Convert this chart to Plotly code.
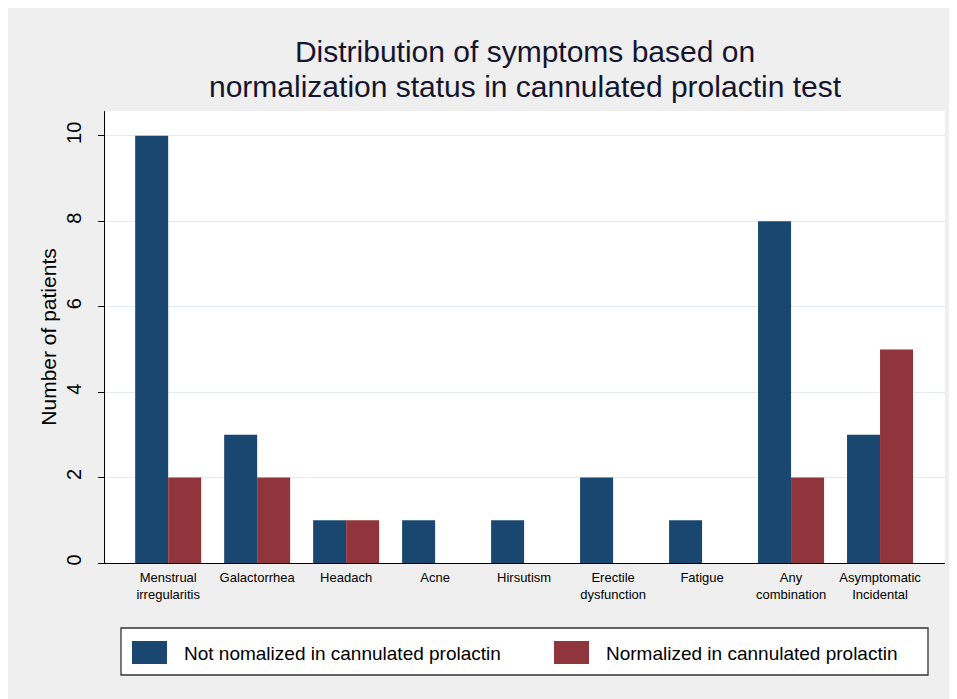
import plotly.graph_objects as go

# categories and counts
symptoms = ["Menstrual<br>irregularitis", "Galactorrhea", "Headach", "Acne", "Hirsutism",
            "Erectile<br>dysfunction", "Fatigue", "Any<br>combination", "Asymptomatic<br>Incidental"]
not_normalized = [10, 3, 1, 1, 1, 2, 1, 8, 3]
normalized = [2, 2, 1, 0, 0, 0, 0, 2, 5]
y_ticks = [0, 2, 4, 6, 8, 10]
series_names = ["Not nomalized in cannulated prolactin", "Normalized in cannulated prolactin"]
title_lines = ["Distribution of symptoms based on", "normalization status in cannulated prolactin test"]

NAVY = "#1a476f"
MAROON = "#90353b"
TITLE_COL = "#15152e"
FONT = "Liberation Sans, Arial, sans-serif"

# plot area is 840 x 452 px
PW, PH = 840, 452

def px_x(v):
    return v / PW

def px_y(v):
    return -v / PH

fig = go.Figure()
fig.add_trace(go.Bar(x=symptoms, y=not_normalized, name=series_names[0],
                     marker_color=NAVY, marker_line_width=0))
fig.add_trace(go.Bar(x=symptoms, y=normalized, name=series_names[1],
                     marker_color=MAROON, marker_line_width=0))

# legend drawn Stata style: wide box, big swatches
shapes = [
    dict(type="rect", xref="paper", yref="paper", x0=px_x(16), x1=px_x(823), y0=px_y(65), y1=px_y(112),
         fillcolor="white", line=dict(color="#333333", width=1.3)),
]
annotations = []
for i, (name, col) in enumerate(zip(series_names, [NAVY, MAROON])):
    sx = 27 + i * 422
    shapes.append(dict(type="rect", xref="paper", yref="paper", x0=px_x(sx), x1=px_x(sx + 35),
                       y0=px_y(78), y1=px_y(101), fillcolor=col, line_width=0))
    annotations.append(dict(text=name, xref="paper", yref="paper", x=px_x(sx + 50), y=px_y(90),
                            xanchor="left", yanchor="middle", showarrow=False,
                            font=dict(family=FONT, size=19, color="black")))

# second title line, tighter line spacing than plotly's <br>
annotations.append(dict(text=title_lines[1], xref="paper", yref="paper", x=0.5, y=1 + 24 / PH,
                        xanchor="center", yanchor="middle", showarrow=False,
                        font=dict(family=FONT, size=30, color=TITLE_COL)))

fig.update_layout(
    width=949, height=691,
    margin=dict(l=97, r=12, t=103, b=136),
    paper_bgcolor="#efefef",
    plot_bgcolor="white",
    barmode="group", bargap=0.258, bargroupgap=0,
    showlegend=False,
    title=dict(
        text=title_lines[0],
        font=dict(family=FONT, size=30, color=TITLE_COL),
        x=0.5, xref="paper", xanchor="center",
        y=1 - 43 / 691, yref="container", yanchor="middle",
    ),
    xaxis=dict(
        range=[-0.71, 8.73], showline=True, linecolor="black", linewidth=1,
        ticks="", showgrid=False, ticklabelstandoff=2,
        tickfont=dict(family=FONT, size=13, color="black"),
    ),
    yaxis=dict(
        range=[0, 10.58], tickvals=y_ticks, tickangle=-90,
        showline=True, linecolor="black", linewidth=1,
        ticks="outside", ticklen=6, tickcolor="black", ticklabelstandoff=9,
        showgrid=True, gridcolor="#e3ecf1", gridwidth=1, zeroline=False,
        tickfont=dict(family=FONT, size=20, color="black"),
        title=dict(text="Number of patients", standoff=0,
                   font=dict(family=FONT, size=21, color="black")),
    ),
    shapes=shapes,
    annotations=annotations,
)

fig.write_html("out.html")
